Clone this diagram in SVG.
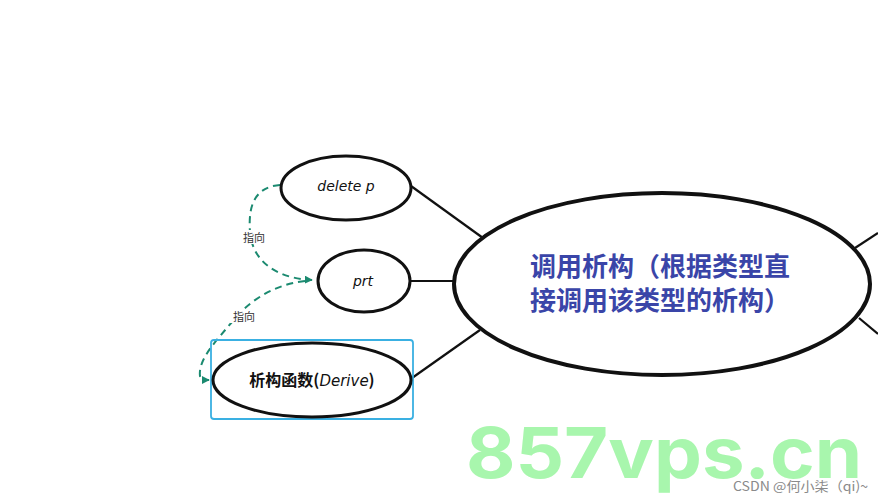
<svg xmlns="http://www.w3.org/2000/svg" width="878" height="500" viewBox="0 0 878 500">
<defs>
<style>
.node{fill:#fff;stroke:#111;stroke-width:3}
.conn{stroke:#111;stroke-width:2.2;fill:none}
.dash{stroke:#1b8a70;stroke-width:2;fill:none;stroke-dasharray:7 5}
.lbl{font-family:"Noto Sans CJK SC","Noto Sans",sans-serif;font-size:11px;fill:#333}
.it{font-family:"DejaVu Sans","Noto Sans",sans-serif;font-style:italic;font-size:14px;fill:#111;text-anchor:middle}
.main{font-family:"Noto Sans CJK SC",sans-serif;font-weight:bold;font-size:26px;fill:#3a45a8}
</style>
<marker id="ah" viewBox="0 0 10 10" refX="9" refY="5" markerWidth="8" markerHeight="8" markerUnits="userSpaceOnUse" orient="auto">
<path d="M0,0 L10,5 L0,10 Z" fill="#1b8a70"/>
</marker>
</defs>
<rect width="878" height="500" fill="#fff"/>
<g id="connectors">
<line class="conn" x1="411" y1="186" x2="483" y2="238"/>
<line class="conn" x1="410" y1="281" x2="456" y2="281"/>
<line class="conn" x1="412" y1="378" x2="480" y2="330"/>
<line class="conn" x1="855" y1="248" x2="878" y2="233"/>
<line class="conn" x1="859" y1="318" x2="878" y2="334"/>
<path class="dash" d="M280,185 C255,187 248,205 250,232 C252,258 272,278 312,280" marker-end="url(#ah)"/>
<path class="dash" d="M305,281 C270,285 245,305 232,322 C215,342 198,360 200,376 C201,380 203,380 209,380" marker-end="url(#ah)"/>
<rect x="240" y="230" width="28" height="14" fill="#fff"/>
<text class="lbl" x="243" y="242">指向</text>
<rect x="230" y="309" width="28" height="14" fill="#fff"/>
<text class="lbl" x="233" y="321">指向</text>
</g>
<g id="node-delete">
<ellipse class="node" cx="346" cy="188" rx="65" ry="32"/>
<text class="it" x="346" y="191">delete p</text>
</g>
<g id="node-prt">
<ellipse class="node" cx="364" cy="281" rx="46" ry="31"/>
<text class="it" x="363" y="286">prt</text>
</g>
<g id="node-derive">
<rect x="211" y="340" width="202" height="79" rx="3" fill="none" stroke="#3ab0e2" stroke-width="1.8"/>
<ellipse class="node" cx="312" cy="380" rx="99" ry="37"/>
<text x="312" y="386" font-family="Noto Sans CJK SC,Noto Sans,sans-serif" font-weight="bold" font-size="16" fill="#111" text-anchor="middle">析构函数(<tspan font-style="italic" font-weight="normal" font-family="DejaVu Sans,sans-serif" font-size="15">Derive</tspan>)</text>
</g>
<g id="node-main">
<ellipse cx="662" cy="284" rx="208" ry="91" fill="#fff" stroke="#111" stroke-width="4"/>
<text class="main" x="530" y="276">调用析构（根据类型直</text>
<text class="main" x="530" y="310">接调用该类型的析构）</text>
</g>
<g id="watermark">
<text x="466" y="478" font-family="Inter,Liberation Sans,sans-serif" font-weight="bold" font-size="70" fill="#a8f6ad" textLength="396" lengthAdjust="spacingAndGlyphs">857vps.cn</text>
<text x="733" y="491" font-family="Noto Sans CJK SC,sans-serif" font-size="13" fill="#8a8a8a" textLength="135" lengthAdjust="spacingAndGlyphs">CSDN @何小柒（qi)~</text>
</g>
</svg>
